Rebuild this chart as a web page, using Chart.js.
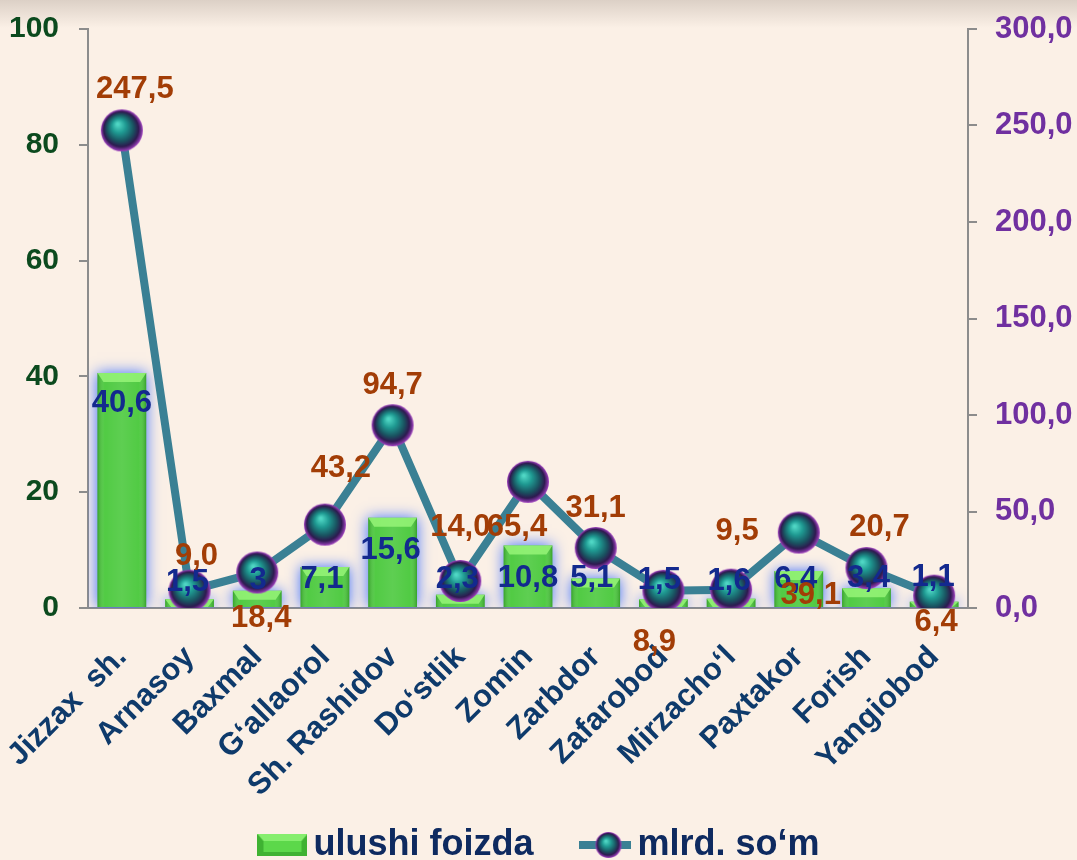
<!DOCTYPE html>
<html>
<head>
<meta charset="utf-8">
<title>Jizzax</title>
<script src="https://cdn.jsdelivr.net/npm/chart.js@4"></script>
<style>
  html, body { margin: 0; padding: 0; background: #FBF0E6; }
  #wrap { width: 1077px; height: 860px; }
</style>
</head>
<body>
<div id="wrap"><canvas id="chart"></canvas></div>
<script>
// data
const categories = ["Jizzax  sh.", "Arnasoy", "Baxmal", "G‘allaorol", "Sh. Rashidov", "Do‘stlik", "Zomin",
  "Zarbdor", "Zafarobod", "Mirzacho‘l", "Paxtakor", "Forish", "Yangiobod"];
const sharePercent = [40.6, 1.5, 3, 7.1, 15.6, 2.3, 10.8, 5.1, 1.5, 1.6, 6.4, 3.4, 1.1];
const amountBln = [247.5, 9.0, 18.4, 43.2, 94.7, 14.0, 65.4, 31.1, 8.9, 9.5, 39.1, 20.7, 6.4];
const leftTicks = [0, 20, 40, 60, 80, 100];
const rightTicks = [0, 50, 100, 150, 200, 250, 300];
const seriesNames = ["ulushi foizda", "mlrd. so‘m"];

// label nudges (pixels) as placed in the original
const barLabelShift = [[0, 31], [-2, -17], [1, -10], [-3, 13], [-2, 33], [-3, -15], [0, 33],
  [-4, 0], [-4, -19], [-2, -17], [-3, 9], [2, -10], [-1, -24]];
const lineLabelShift = [[13, -41], [7, -34], [4, 46], [16, -56], [0, -40], [0, -54], [-11, 46],
  [0, -40], [-9, 52], [6, -58], [12, 63], [13, -41], [2, 27]];

const FONT = '"Liberation Sans", Arial, sans-serif';
Chart.defaults.font.family = FONT;

function makeSphere(r) {
  const c = document.createElement('canvas');
  c.width = c.height = r * 2 + 2;
  const g = c.getContext('2d');
  const m = r + 1;
  const grad = g.createRadialGradient(m - r * 0.2, m - r * 0.3, r * 0.05, m, m, r);
  grad.addColorStop(0, '#4FD6C4');
  grad.addColorStop(0.3, '#1F9A92');
  grad.addColorStop(0.62, '#1A5260');
  grad.addColorStop(0.82, '#2E1A50');
  grad.addColorStop(1, '#A040C0');
  g.fillStyle = grad;
  g.beginPath();
  g.arc(m, m, r, 0, Math.PI * 2);
  g.fill();
  return c;
}

function makeBarSwatch(w, h) {
  const c = document.createElement('canvas');
  c.width = w; c.height = h;
  const g = c.getContext('2d');
  g.fillStyle = '#3FB232';
  g.fillRect(0, 0, w, h);
  g.fillStyle = '#86EE6E';
  g.beginPath();
  g.moveTo(0, 0); g.lineTo(w, 0); g.lineTo(w - 6, 7); g.lineTo(6, 7); g.closePath();
  g.fill();
  g.fillStyle = '#5CD84A';
  g.fillRect(6, 7, w - 12, h - 11);
  return c;
}

function makeLineSwatch(w, h) {
  const c = document.createElement('canvas');
  c.width = w; c.height = h;
  const g = c.getContext('2d');
  g.fillStyle = '#3A8094';
  g.fillRect(0, h / 2 - 4, w, 8);
  const s = makeSphere(13);
  g.drawImage(s, w / 2 - s.width / 2 + 3, h / 2 - s.height / 2);
  return c;
}

const sphere = makeSphere(21);
const fmtShare = v => String(v).replace('.', ',');
const fmtAmount = v => v.toFixed(1).replace('.', ',');

const background = {
  id: 'background',
  beforeDraw(chart) {
    const ctx = chart.ctx;
    ctx.save();
    ctx.fillStyle = '#FBF0E6';
    ctx.fillRect(0, 0, chart.width, chart.height);
    const gr = ctx.createLinearGradient(0, 0, 0, 28);
    gr.addColorStop(0, 'rgba(110,95,85,0.22)');
    gr.addColorStop(1, 'rgba(110,95,85,0)');
    ctx.fillStyle = gr;
    ctx.fillRect(0, 0, chart.width, 28);
    ctx.restore();
  }
};

const barLook = {
  id: 'barLook',
  beforeDatasetDraw(chart, args) {
    if (args.index !== 0) return;
    const ctx = chart.ctx;
    ctx.save();
    ctx.shadowColor = 'rgba(60,110,255,1)';
    ctx.shadowBlur = 14;
  },
  afterDatasetDraw(chart, args) {
    if (args.index !== 0) return;
    const ctx = chart.ctx;
    ctx.restore();
    ctx.save();
    args.meta.data.forEach(bar => {
      const w = bar.width, left = bar.x - w / 2, top = bar.y, h = bar.base - bar.y;
      const sh = ctx.createLinearGradient(left, 0, left + w, 0);
      sh.addColorStop(0, 'rgba(20,90,10,0.35)');
      sh.addColorStop(0.15, 'rgba(255,255,255,0.05)');
      sh.addColorStop(0.5, 'rgba(255,255,255,0.12)');
      sh.addColorStop(0.85, 'rgba(255,255,255,0.05)');
      sh.addColorStop(1, 'rgba(20,90,10,0.35)');
      ctx.fillStyle = sh;
      ctx.fillRect(left, top, w, h);
      const cap = Math.min(9, h);
      ctx.fillStyle = 'rgba(150,245,120,0.85)';
      ctx.beginPath();
      ctx.moveTo(left, top); ctx.lineTo(left + w, top);
      ctx.lineTo(left + w - 6, top + cap); ctx.lineTo(left + 6, top + cap);
      ctx.closePath();
      ctx.fill();
    });
    ctx.restore();
  }
};

const valueLabels = {
  id: 'valueLabels',
  afterDatasetsDraw(chart) {
    const ctx = chart.ctx;
    ctx.save();
    ctx.font = 'bold 31px ' + FONT;
    ctx.textAlign = 'center';
    ctx.textBaseline = 'middle';
    ctx.fillStyle = '#13298E';
    chart.getDatasetMeta(0).data.forEach((bar, i) => {
      ctx.fillText(fmtShare(sharePercent[i]), bar.x + barLabelShift[i][0], bar.y + barLabelShift[i][1]);
    });
    ctx.fillStyle = '#A23D06';
    chart.getDatasetMeta(1).data.forEach((pt, i) => {
      ctx.fillText(fmtAmount(amountBln[i]), pt.x + lineLabelShift[i][0], pt.y + lineLabelShift[i][1]);
    });
    ctx.restore();
  }
};

const bottomLegend = {
  id: 'bottomLegend',
  afterDraw(chart) {
    const ctx = chart.ctx;
    ctx.save();
    ctx.font = 'bold 36px ' + FONT;
    ctx.textBaseline = 'middle';
    ctx.fillStyle = '#0E2A60';
    const swatches = [makeBarSwatch(50, 22), makeLineSwatch(52, 30)];
    const gapIn = 6, gapOut = 46;
    const widths = seriesNames.map((t, i) => swatches[i].width + gapIn + ctx.measureText(t).width);
    const total = widths[0] + gapOut + widths[1];
    let x = (chart.width - total) / 2;
    const y = 845;
    seriesNames.forEach((t, i) => {
      const s = swatches[i];
      ctx.drawImage(s, x, y - s.height / 2);
      ctx.fillText(t, x + s.width + gapIn, y);
      x += widths[i] + gapOut;
    });
    ctx.restore();
  }
};

const axisGrey = '#8C8C8C';

new Chart(document.getElementById('chart'), {
  type: 'bar',
  data: {
    labels: categories,
    datasets: [{
      label: seriesNames[0],
      data: sharePercent,
      yAxisID: 'y',
      backgroundColor: '#48C83A',
      borderWidth: 0,
      categoryPercentage: 0.72,
      barPercentage: 1,
      order: 2
    }, {
      type: 'line',
      label: seriesNames[1],
      data: amountBln,
      yAxisID: 'y1',
      borderColor: '#3A8094',
      borderWidth: 8,
      tension: 0,
      pointStyle: sphere,
      pointRadius: 21,
      order: 1
    }]
  },
  options: {
    responsive: true,
    maintainAspectRatio: false,
    animation: false,
    layout: { padding: { top: 26, bottom: 56, left: 0, right: 0 } },
    plugins: {
      legend: { display: false },
      tooltip: { enabled: false }
    },
    scales: {
      x: {
        grid: { display: false },
        border: { color: axisGrey, width: 2 },
        ticks: {
          autoSkip: false,
          maxRotation: 45,
          minRotation: 45,
          padding: 23,
          color: '#0E3A6B',
          font: { size: 31, weight: 'bold' }
        },
        afterFit(scale) {
          scale.height = 196;
          scale.paddingLeft = 0;
          scale.paddingRight = 0;
        }
      },
      y: {
        position: 'left',
        min: leftTicks[0],
        max: leftTicks[leftTicks.length - 1],
        border: { color: axisGrey, width: 2 },
        grid: { drawOnChartArea: false, color: axisGrey, lineWidth: 2, tickLength: 9 },
        ticks: {
          stepSize: leftTicks[1] - leftTicks[0],
          padding: 20,
          color: '#0B4A1E',
          font: { size: 30, weight: 'bold' }
        },
        afterFit(scale) {
          scale.width = 88;
          scale.paddingTop = 0;
          scale.paddingBottom = 0;
        }
      },
      y1: {
        position: 'right',
        min: rightTicks[0],
        max: rightTicks[rightTicks.length - 1],
        border: { color: axisGrey, width: 2 },
        grid: { drawOnChartArea: false, color: axisGrey, lineWidth: 2, tickLength: 9 },
        ticks: {
          stepSize: rightTicks[1] - rightTicks[0],
          padding: 18,
          color: '#7030A0',
          font: { size: 31, weight: 'bold' },
          callback: v => fmtAmount(v)
        },
        afterFit(scale) {
          scale.width = 109;
          scale.paddingTop = 0;
          scale.paddingBottom = 0;
        }
      }
    }
  },
  plugins: [background, barLook, valueLabels, bottomLegend]
});
</script>
</body>
</html>
